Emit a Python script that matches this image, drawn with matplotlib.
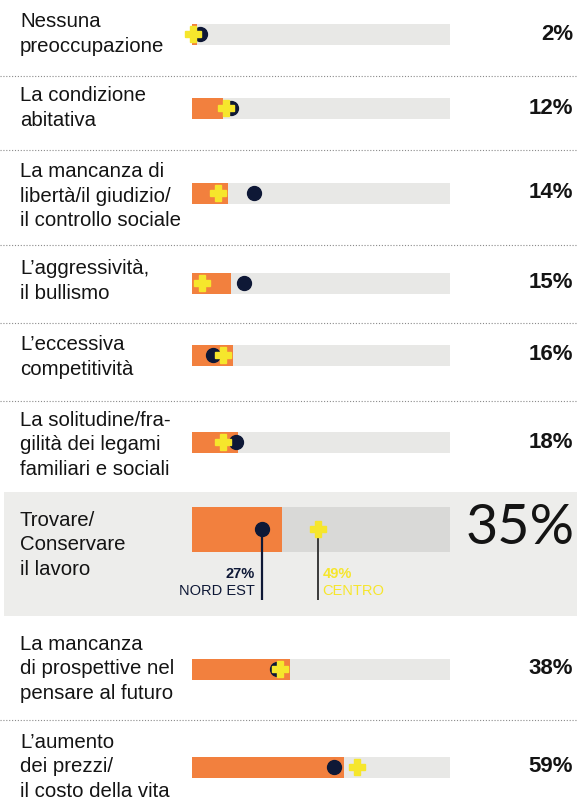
import matplotlib
matplotlib.use("Agg")
import matplotlib.pyplot as plt
from matplotlib.transforms import blended_transform_factory
from matplotlib.patches import Rectangle

plt.rcParams['font.family'] = ['Liberation Sans', 'DejaVu Sans']

categories = [
    "Nessuna\npreoccupazione",
    "La condizione\nabitativa",
    "La mancanza di\nlibertà/il giudizio/\nil controllo sociale",
    "L\u2019aggressività,\nil bullismo",
    "L\u2019eccessiva\ncompetitività",
    "La solitudine/fra-\ngilità dei legami\nfamiliari e sociali",
    "Trovare/\nConservare\nil lavoro",
    "La mancanza\ndi prospettive nel\npensare al futuro",
    "L\u2019aumento\ndei prezzi/\nil costo della vita",
]
totale = [2, 12, 14, 15, 16, 18, 35, 38, 59]
nord_est = [3, 15, 24, 20, 8, 17, 27, 33, 55]
centro = [0.5, 13, 10, 4, 12, 12, 49, 34, 64]
highlight = 6

# layout (pixel rows)
row_y = [34, 108, 193, 283, 355, 442, 529, 669, 767]
label_dy = [0, 0, 3, -2, 2, 3, 16, 0, 0]
sep_y = [76, 150, 245, 323, 401, 720]

W, H = 577, 808
fig = plt.figure(figsize=(W / 100, H / 100), dpi=100)
fig.patch.set_facecolor("white")
ax = fig.add_axes([192 / W, 0, 258 / W, 1])
ax.set_xlim(0, 100)
ax.set_ylim(H, 0)
ax.axis("off")
tr = blended_transform_factory(fig.transFigure, ax.transData)

ORANGE = "#f2803e"
GRAY = "#e8e8e6"
NAVY = "#0e1836"
YELLOW = "#f6e62c"

# highlight box
ax.add_patch(Rectangle((4 / W, 492), 573 / W, 124, transform=tr,
                       facecolor="#ededeb", edgecolor="none", zorder=0,
                       clip_on=False))

for i, cat in enumerate(categories):
    y = row_y[i]
    h = 45 if i == highlight else 21
    bg = "#d9d9d7" if i == highlight else GRAY
    ax.barh(y, 100, height=h, color=bg, zorder=1)
    ax.barh(y, totale[i], height=h, color=ORANGE, zorder=2)
    ax.plot(nord_est[i], y, marker="o", ms=10, color=NAVY, mec=NAVY,
            zorder=3, clip_on=False)
    ax.plot(centro[i], y, marker="P", ms=11, color=YELLOW, mec=YELLOW,
            zorder=4, clip_on=False)
    ax.text(20 / W, y + label_dy[i], cat, transform=tr, ha="left", va="center",
            fontsize=14.7, linespacing=1.36, color="#141414")
    if i == highlight:
        ax.text(575 / W, y, f"{totale[i]}%", transform=tr, ha="right",
                va="center", fontsize=40, family=["Lato", "DejaVu Sans"],
                fontweight="normal", color="#141414")
        # leader lines
        ax.plot([nord_est[i], nord_est[i]], [y, 600], color=NAVY, lw=1.6,
                zorder=3, solid_capstyle="butt")
        ax.plot([centro[i], centro[i]], [y + 4, 600], color="#3a3a3a", lw=1.4,
                zorder=3, solid_capstyle="butt")
        ax.annotate(f"{nord_est[i]}%", xy=(nord_est[i], 574), xytext=(-5, 0),
                    textcoords="offset points", ha="right", va="center",
                    fontsize=10.5, fontweight="bold", color=NAVY)
        ax.annotate("NORD EST", xy=(nord_est[i], 591), xytext=(-5, 0),
                    textcoords="offset points", ha="right", va="center",
                    fontsize=10.5, color=NAVY)
        ax.annotate(f"{int(centro[i])}%", xy=(centro[i], 574), xytext=(3, 0),
                    textcoords="offset points", ha="left", va="center",
                    fontsize=10.5, fontweight="bold", color=YELLOW)
        ax.annotate("CENTRO", xy=(centro[i], 591), xytext=(3, 0),
                    textcoords="offset points", ha="left", va="center",
                    fontsize=10.5, color=YELLOW)
    else:
        ax.text(573 / W, y, f"{totale[i]}%", transform=tr, ha="right",
                va="center", fontsize=16, fontweight="bold", color="#141414")

for sy in sep_y:
    ax.plot([0, 1], [sy, sy], transform=tr, color="#8a8a8a", lw=0.8,
            linestyle=(0, (1, 1.6)), clip_on=False)

fig.savefig("out.png", dpi=100)
